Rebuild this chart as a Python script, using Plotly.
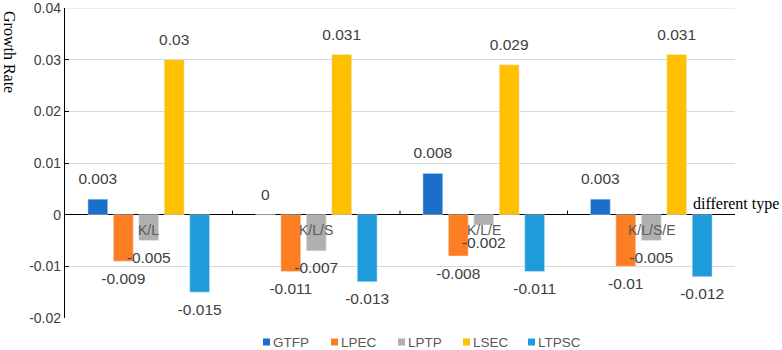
import plotly.graph_objects as go

categories = ["K/L", "K/L/S", "K/L/E", "K/L/S/E"]
series_names = ["GTFP", "LPEC", "LPTP", "LSEC", "LTPSC"]
gtfp = [0.003, 0.0, 0.008, 0.003]
lpec = [-0.009, -0.011, -0.008, -0.01]
lptp = [-0.005, -0.007, -0.002, -0.005]
lsec = [0.03, 0.031, 0.029, 0.031]
ltpsc = [-0.015, -0.013, -0.011, -0.012]
series_values = [gtfp, lpec, lptp, lsec, ltpsc]
colors = ["#1A6FCB", "#FD7E22", "#B0B0B0", "#FFC000", "#1E9BDB"]

ytick_vals = [-0.02, -0.01, 0, 0.01, 0.02, 0.03, 0.04]
ytick_text = ["-0.02", "-0.01", "0", "0.01", "0.02", "0.03", "0.04"]

def fmt(v):
    s = ("%.3f" % v).rstrip("0").rstrip(".")
    if s in ("-0", ""):
        s = "0"
    return s

# plot area in pixels (for legend placement)
W, H = 782, 350
ML, MR, MT, MB = 65, 47, 8, 32
PW, PH = W - ML - MR, H - MT - MB

def px2x(px):
    return (px - ML) / PW

def py2y(py):
    return (H - MB - py) / PH

fig = go.Figure()
for i, (name, vals, col) in enumerate(zip(series_names, series_values, colors)):
    fig.add_trace(go.Bar(
        x=categories, y=vals, name=name, marker_color=col,
        offsetgroup=str(i), hoverinfo="skip", showlegend=False,
    ))
for i, (name, vals) in enumerate(zip(series_names, series_values)):
    fig.add_trace(go.Scatter(
        x=categories, y=vals, mode="markers+text",
        text=[fmt(v) for v in vals],
        textposition=["top center" if v >= 0 else "bottom center" for v in vals],
        textfont=dict(family="Liberation Sans", size=15.5, color="#404040"),
        marker=dict(size=16, opacity=0),
        offsetgroup=str(i), showlegend=False, hoverinfo="skip", cliponaxis=False,
    ))

annotations = []
shapes = []
for c in categories:
    annotations.append(dict(
        x=c, y=0, xref="x", yref="y", text=c, showarrow=False,
        yanchor="top", yshift=-5,
        font=dict(family="Liberation Sans", size=14, color="#595959"),
    ))
annotations.append(dict(
    x=1, y=0, xref="paper", yref="y", text="different type", showarrow=False,
    xanchor="center", yanchor="bottom", yshift=0, xshift=1,
    font=dict(family="Liberation Serif", size=16, color="#000000"),
))
annotations.append(dict(
    x=0, y=py2y(52), xref="paper", yref="paper", text="Growth Rate", showarrow=False,
    textangle=90, xanchor="center", yanchor="middle", xshift=10 - ML,
    font=dict(family="Liberation Serif", size=16, color="#000000"),
))

# manual legend
legend_left_px = [263, 331, 398, 463, 528]
legend_y = py2y(342)
for name, col, lx in zip(series_names, colors, legend_left_px):
    shapes.append(dict(
        type="rect", xref="paper", yref="paper",
        xsizemode="pixel", ysizemode="pixel",
        xanchor=px2x(lx), yanchor=legend_y,
        x0=0, x1=7, y0=-3.5, y1=3.5,
        fillcolor=col, line=dict(width=0),
    ))
    annotations.append(dict(
        x=px2x(lx + 8), y=legend_y, xref="paper", yref="paper", text=name,
        showarrow=False, xanchor="left", yanchor="middle",
        font=dict(family="Liberation Sans", size=13.5, color="#595959"),
    ))

# category boundary ticks on the zero line
for b in [0.5, 1.5, 2.5]:
    shapes.append(dict(
        type="line", xref="x", yref="y", ysizemode="pixel", yanchor=0,
        x0=b, x1=b, y0=0, y1=4, line=dict(color="#000000", width=1),
    ))
# top gridline
shapes.append(dict(
    type="line", xref="paper", yref="y", x0=0, x1=1,
    y0=ytick_vals[-1], y1=ytick_vals[-1],
    line=dict(color="#D9D9D9", width=1), layer="below",
))

fig.update_layout(
    width=W, height=H,
    margin=dict(l=ML, r=MR, t=MT, b=MB, autoexpand=False),
    paper_bgcolor="white", plot_bgcolor="white",
    barmode="group", bargap=0.24, bargroupgap=0.22,
    scattermode="group", scattergap=0.24,
    showlegend=False,
    annotations=annotations,
    shapes=shapes,
    font=dict(family="Liberation Sans"),
    hovermode=False,
)
fig.update_xaxes(
    type="category", showticklabels=False, showgrid=False, ticks="",
    showline=False, zeroline=False, range=[-0.5, 3.5], automargin=False,
)
fig.update_yaxes(
    range=[-0.02, 0.0400001], tickvals=ytick_vals, ticktext=ytick_text,
    showgrid=True, gridcolor="#D9D9D9", gridwidth=1,
    zeroline=True, zerolinecolor="#000000", zerolinewidth=1.3,
    showline=True, linecolor="#000000", linewidth=1.3,
    ticks="inside", ticklen=4, tickcolor="#000000", automargin=False,
    ticklabeloverflow="allow",
    tickfont=dict(family="Liberation Sans", size=14, color="#404040"),
)

fig.write_html("out.html", config={"displayModeBar": False},
               post_script="document.body.style.margin='0';")
